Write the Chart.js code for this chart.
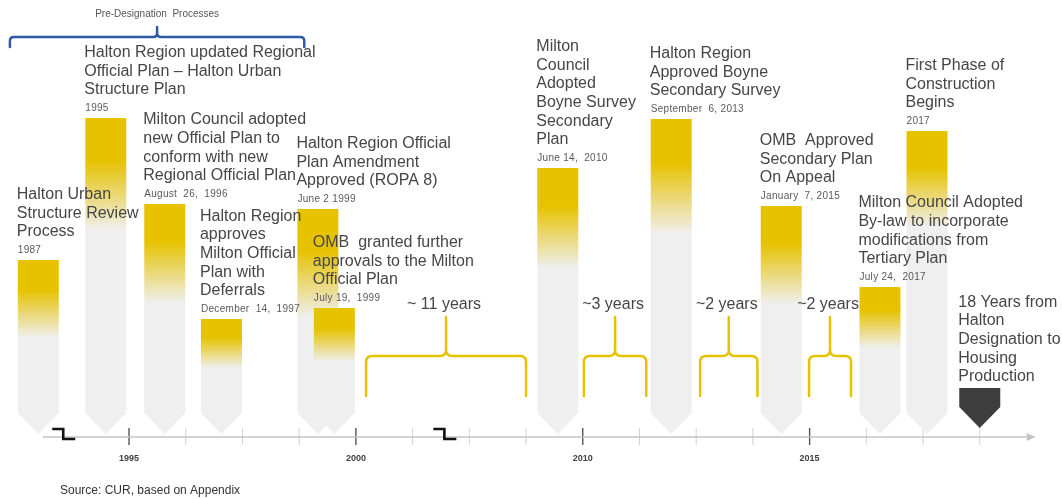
<!DOCTYPE html>
<html>
<head>
<meta charset="utf-8">
<script src="https://cdn.jsdelivr.net/npm/chart.js@4.4.1/dist/chart.umd.min.js"></script>
<style>
  html, body { margin: 0; padding: 0; background: #fff; }
  #wrap { width: 1062px; height: 499px; position: relative; }
</style>
</head>
<body>
<div id="wrap"><canvas id="timeline"></canvas></div>
<script>
// x axis is in "tick slots": 0 = the 1995 tick, one slot per tick mark
const eventPos = [-1.6, -0.41, 0.63, 1.63, 3.33, 3.62, 7.56, 9.56, 11.5, 13.24, 14.07, 15.0];
const eventHeight = [177, 319, 233, 118, 228, 129, 269, 318, 231, 150, 306, 49];
const eventTitles = [
    ['Halton Urban', 'Structure Review', 'Process'],
    ['Halton Region updated Regional', 'Official Plan \u2013 Halton Urban', 'Structure Plan'],
    ['Milton Council adopted', 'new Official Plan to', 'conform with new', 'Regional Official Plan'],
    ['Halton Region', 'approves', 'Milton Official', 'Plan with', 'Deferrals'],
    ['Halton Region Official', 'Plan Amendment', 'Approved (ROPA 8)'],
    ['OMB  granted further', 'approvals to the Milton', 'Official Plan'],
    ['Milton', 'Council', 'Adopted', 'Boyne Survey', 'Secondary', 'Plan'],
    ['Halton Region', 'Approved Boyne', 'Secondary Survey'],
    ['OMB  Approved', 'Secondary Plan', 'On Appeal'],
    ['Milton Council Adopted', 'By-law to incorporate', 'modifications from', 'Tertiary Plan'],
    ['First Phase of', 'Construction', 'Begins'],
    ['18 Years from', 'Halton', 'Designation to', 'Housing', 'Production']
];
const eventDates = ['1987', '1995', 'August  26,  1996', 'December  14,  1997', 'June 2 1999',
    'July 19,  1999', 'June 14,  2010', 'September  6, 2013', 'January  7, 2015', 'July 24,  2017', '2017', ''];
const tickYears = {0: '1995', 4: '2000', 8: '2010', 12: '2015'};

const gapFrom = [4.18, 8.02, 10.07, 11.99];
const gapTo = [7.0, 9.12, 11.08, 12.73];
const gapLabels = ['~ 11 years', '~3 years', '~2 years', '~2 years'];

const groupFrom = -2.1;
const groupTo = 3.09;
const groupLabel = 'Pre-Designation  Processes';
const breakAt = [-1.16, 5.56];
const sourceNote = 'Source: CUR, based on Appendix';

// styles
const FONT = "'Liberation Sans', Arial, sans-serif";
const YELLOW = '#E6C200';
const GREY = '#EFEFEF';
const DARK = '#3d3d3d';
const fadeLen = [78, 112, 99, 49, 108, 54, 100, 115, 98, 61, 96, 0];
const darkBar = 11;

function drawBrace(ctx, x1, x2, yTip, yBar, yEnd, r) {
    const xc = (x1 + x2) / 2;
    ctx.beginPath();
    ctx.moveTo(x1, yEnd);
    ctx.lineTo(x1, yBar + r);
    ctx.quadraticCurveTo(x1, yBar, x1 + r, yBar);
    ctx.lineTo(xc - r, yBar);
    ctx.quadraticCurveTo(xc, yBar, xc, yBar - r);
    ctx.lineTo(xc, yTip);
    ctx.moveTo(xc, yBar - r);
    ctx.quadraticCurveTo(xc, yBar, xc + r, yBar);
    ctx.lineTo(x2 - r, yBar);
    ctx.quadraticCurveTo(x2, yBar, x2, yBar + r);
    ctx.lineTo(x2, yEnd);
    ctx.stroke();
}

const timelineArt = {
    id: 'timelineArt',
    beforeDatasetsDraw(chart) {
        const ctx = chart.ctx;
        const xs = chart.scales.x, ys = chart.scales.y;
        const axisY = ys.getPixelForValue(0);
        ctx.save();
        // ticks
        xs.ticks.forEach(t => {
            const px = xs.getPixelForValue(t.value);
            const major = tickYears[t.value] !== undefined;
            ctx.strokeStyle = major ? '#555' : '#d2d2d2';
            ctx.lineWidth = major ? 1.4 : 1;
            ctx.beginPath();
            ctx.moveTo(px, axisY - 9);
            ctx.lineTo(px, axisY + 8);
            ctx.stroke();
        });
        // axis line with arrow
        const x0 = xs.getPixelForValue(-1.52), x1 = xs.getPixelForValue(15.95);
        ctx.strokeStyle = '#c4c4c4';
        ctx.lineWidth = 1.6;
        ctx.beginPath();
        ctx.moveTo(x0, axisY);
        ctx.lineTo(x1 - 4, axisY);
        ctx.stroke();
        ctx.fillStyle = '#c4c4c4';
        ctx.beginPath();
        ctx.moveTo(x1 + 2, axisY);
        ctx.lineTo(x1 - 7, axisY - 4);
        ctx.lineTo(x1 - 7, axisY + 4);
        ctx.closePath();
        ctx.fill();
        ctx.restore();
    },
    afterDatasetsDraw(chart) {
        const ctx = chart.ctx;
        const xs = chart.scales.x, ys = chart.scales.y;
        const axisY = ys.getPixelForValue(0);
        const meta = chart.getDatasetMeta(0);
        ctx.save();

        // arrow-shaped columns
        meta.data.forEach((bar, i) => {
            const w = bar.width;
            const l = bar.x - w / 2, r = bar.x + w / 2;
            const top = bar.y;
            const tip = bar.base - (i === darkBar ? 9 : 3);
            const shoulder = tip - 21;
            ctx.beginPath();
            ctx.moveTo(l, top);
            ctx.lineTo(r, top);
            ctx.lineTo(r, shoulder);
            ctx.lineTo(bar.x, tip);
            ctx.lineTo(l, shoulder);
            ctx.closePath();
            if (i === darkBar) {
                ctx.fillStyle = DARK;
            } else {
                const g = ctx.createLinearGradient(0, top, 0, top + fadeLen[i]);
                g.addColorStop(0, YELLOW);
                g.addColorStop(0.38, YELLOW);
                g.addColorStop(1, GREY);
                ctx.fillStyle = g;
            }
            ctx.fill();
        });

        // event labels
        ctx.textAlign = 'left';
        ctx.textBaseline = 'middle';
        meta.data.forEach((bar, i) => {
            const left = bar.x - bar.width / 2;
            const top = bar.y;
            const hasDate = eventDates[i] !== '';
            if (hasDate) {
                ctx.font = '10px ' + FONT;
                ctx.fillStyle = '#5a5a5a';
                ctx.letterSpacing = '0.3px';
                ctx.fillText(eventDates[i], left, top - 10);
            }
            ctx.letterSpacing = '0px';
            ctx.font = '16px ' + FONT;
            ctx.fillStyle = '#464646';
            const lines = eventTitles[i];
            const lastY = hasDate ? top - 28 : top - 11;
            lines.forEach((t, j) => {
                ctx.fillText(t, left - 1, lastY - (lines.length - 1 - j) * 18.7);
            });
        });

        // yellow gap braces
        ctx.strokeStyle = YELLOW;
        ctx.lineWidth = 2.5;
        ctx.lineCap = 'round';
        ctx.textAlign = 'center';
        ctx.font = '16px ' + FONT;
        ctx.fillStyle = '#464646';
        gapFrom.forEach((g, i) => {
            const a = xs.getPixelForValue(g), b = xs.getPixelForValue(gapTo[i]);
            drawBrace(ctx, a, b, ys.getPixelForValue(120), ys.getPixelForValue(81), ys.getPixelForValue(41), 6);
            ctx.fillText(gapLabels[i], (a + b) / 2 - 2, ys.getPixelForValue(132));
        });

        // blue group brace at the top
        ctx.strokeStyle = '#2d5ba6';
        ctx.lineWidth = 2.5;
        const ga = xs.getPixelForValue(groupFrom), gb = xs.getPixelForValue(groupTo);
        drawBrace(ctx, ga, gb, ys.getPixelForValue(410), ys.getPixelForValue(400), ys.getPixelForValue(390), 4);
        ctx.font = '10px ' + FONT;
        ctx.fillStyle = '#555';
        ctx.fillText(groupLabel, (ga + gb) / 2, ys.getPixelForValue(423));

        // axis breaks
        ctx.strokeStyle = '#111';
        ctx.lineWidth = 2.6;
        ctx.lineCap = 'butt';
        ctx.lineJoin = 'miter';
        breakAt.forEach(v => {
            const c = xs.getPixelForValue(v);
            ctx.beginPath();
            ctx.moveTo(c - 11, axisY - 8);
            ctx.lineTo(c, axisY - 8);
            ctx.lineTo(c, axisY + 2);
            ctx.lineTo(c + 12, axisY + 2);
            ctx.stroke();
        });

        // source note
        ctx.textAlign = 'left';
        ctx.font = '12px ' + FONT;
        ctx.fillStyle = '#333';
        ctx.fillText(sourceNote, 60, 491);
        ctx.restore();
    }
};

new Chart(document.getElementById('timeline'), {
    type: 'bar',
    data: {
        datasets: [{
            data: eventPos.map((x, i) => ({x: x, y: eventHeight[i]})),
            backgroundColor: 'rgba(0,0,0,0)',
            borderWidth: 0,
            barThickness: 41
        }]
    },
    options: {
        animation: false,
        responsive: true,
        maintainAspectRatio: false,
        events: [],
        layout: {padding: 0},
        plugins: {legend: {display: false}, tooltip: {enabled: false}},
        scales: {
            x: {
                type: 'linear',
                offset: false,
                min: -2.275,
                max: 16.45,
                afterBuildTicks: (scale) => {
                    scale.ticks = scale.ticks.filter(t => Number.isInteger(t.value) && t.value >= 0 && t.value <= 15);
                },
                afterFit: (scale) => { scale.height = 62; },
                grid: {display: false, drawTicks: false},
                border: {display: false},
                ticks: {
                    stepSize: 1,
                    autoSkip: false,
                    maxRotation: 0,
                    padding: 16,
                    color: '#404040',
                    font: {family: FONT, size: 9, weight: 'bold'},
                    callback: (value) => tickYears[value] || ''
                }
            },
            y: {display: false, min: 0, max: 437}
        }
    },
    plugins: [timelineArt]
});
</script>
</body>
</html>
